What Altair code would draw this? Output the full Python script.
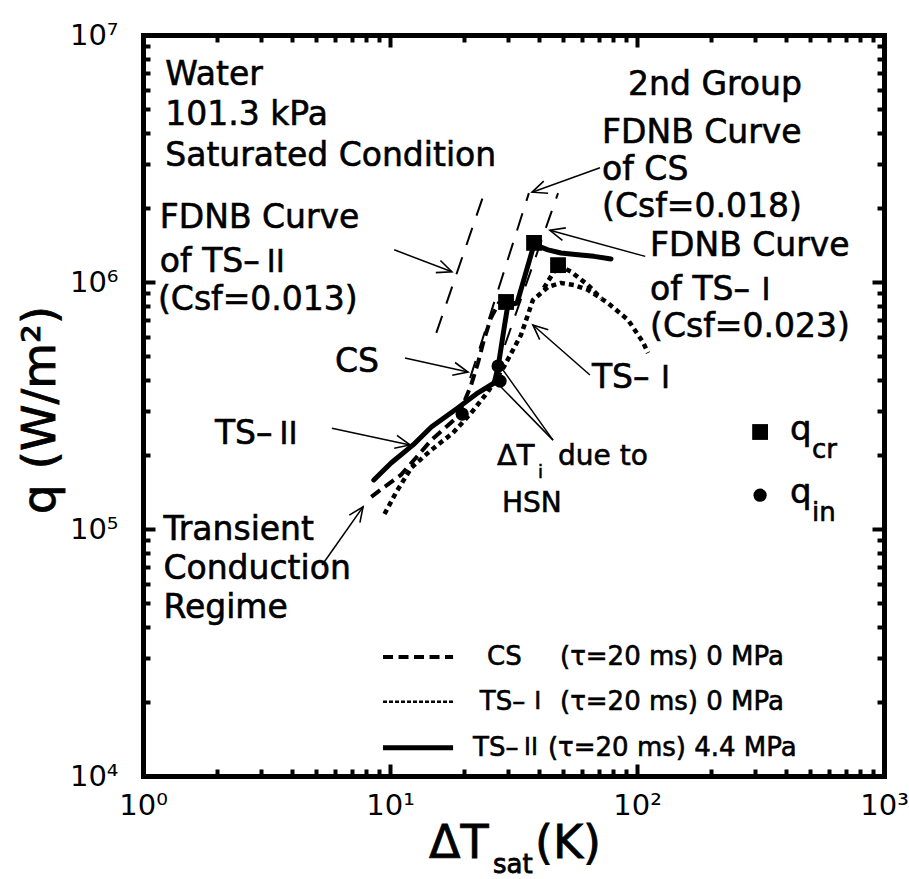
import json
import math
import altair as alt
import pandas as pd

FONT = "DejaVu Sans"
CJK = "Noto Sans CJK JP"

# ---------------- values ----------------
# CS (dashed, tau=20 ms, 0 MPa)
cs_dT = [8.4, 9.5, 11.1, 14.7, 18.5, 19.9, 21.3, 22.7, 24.0, 25.6, 27.6, 29.5]
cs_q = [1.35e5, 1.48e5, 1.66e5, 2.29e5, 2.81e5, 3.24e5, 3.83e5, 4.70e5, 5.82e5, 7.15e5, 8.22e5, 8.3e5]

# TS-I (dotted, tau=20 ms, 0 MPa)
ts1_dT = [9.5, 10.6, 12.2, 14.7, 18.0, 21.3, 24.9, 28.9, 33.9, 37.9, 43.6, 49.2, 55.6, 63.3, 76.3, 92.0, 105.7, 110.8]
ts1_q = [1.15e5, 1.41e5, 1.77e5, 2.09e5, 2.45e5, 2.95e5, 3.59e5, 4.53e5, 6.10e5, 8.45e5, 9.54e5, 9.91e5,
         9.72e5, 9.29e5, 8.22e5, 7.02e5, 5.71e5, 5.16e5]
ts1b_dT = [42.0, 47.9, 54.1, 63.3, 71.5]
ts1b_q = [9.46e5, 1.17e6, 1.10e6, 9.72e5, 8.61e5]

# TS-II (solid, tau=20 ms, 4.4 MPa)
ts2_dT = [8.6, 10.1, 12.4, 14.7, 18.8, 22.7, 26.4, 27.4, 28.9, 30.0, 32.7, 38.3, 43.6, 49.2, 57.7, 67.0, 78.5]
ts2_q = [1.58e5, 1.85e5, 2.19e5, 2.59e5, 3.09e5, 3.56e5, 3.90e5, 4.53e5, 6.40e5, 8.07e5, 8.22e5, 1.42e6,
         1.35e6, 1.31e6, 1.29e6, 1.27e6, 1.24e6]

# critical heat flux (squares) and incipient boiling (circles)
qcr_dT = [29.5, 38.3, 47.9]
qcr_q = [8.3e5, 1.44e6, 1.17e6]
qin_dT = [27.4, 27.9, 19.6]
qin_q = [4.57e5, 3.97e5, 2.92e5]

# FDNB curves (thin long dashes)
fdnb_ts2_dT = [15.4, 24.0]
fdnb_ts2_q = [6.22e5, 2.27e6]
fdnb_cs_dT = [21.1, 36.5]
fdnb_cs_q = [4.08e5, 2.29e6]
fdnb_ts1_dT = [29.2, 47.9]
fdnb_ts1_q = [5.56e5, 2.29e6]

# axis tick labels
x_tick_labels = ["10⁰", "10¹", "10²", "10³"]
y_tick_labels = ["10⁴", "10⁵", "10⁶", "10⁷"]
x_major = [1, 10, 100, 1000]
y_major = [1e4, 1e5, 1e6, 1e7]
x_minor = [m * 10 ** e for e in range(0, 3) for m in range(2, 10)]
y_minor = [m * 10 ** e for e in range(4, 7) for m in range(2, 10)]

# annotations: text, x, y, font size, baseline
ann_text = ["Water", "101.3 kPa", "Saturated Condition", "2nd Group",
            "FDNB Curve", "of CS", "(Csf=0.018)",
            "FDNB Curve", "of TS–", "(Csf=0.013)",
            "FDNB Curve", "of TS–", "(Csf=0.023)",
            "CS", "TS–", "TS–",
            "ΔT", "i", "due to", "HSN",
            "Transient", "Conduction", "Regime",
            "q", "cr", "q", "in",
            "CS", "(τ=20 ms) 0 MPa", "TS–", "(τ=20 ms) 0 MPa", "TS–", "(τ=20 ms) 4.4 MPa"]
ann_x = [1.23, 1.23, 1.23, 92.0,
         72.2, 72.2, 72.2,
         1.17, 1.17, 1.15,
         113, 113, 113,
         5.99, 1.955, 65.7,
         27.1, 39.7, 47.9, 28.4,
         1.21, 1.21, 1.21,
         416, 511, 416, 511,
         24.7, 48.8, 23.1, 48.8, 21.7, 43.6]
ann_y = [6.28e6, 4.32e6, 2.95e6, 5.71e6,
         3.65e6, 2.59e6, 1.84e6,
         1.65e6, 1.10e6, 7.71e5,
         1.27e6, 8.46e5, 5.99e5,
         4.32e5, 2.21e5, 3.72e5,
         1.82e5, 1.61e5, 1.82e5, 1.17e5,
         9.02e4, 6.28e4, 4.36e4,
         2.29e5, 1.94e5, 1.27e5, 1.08e5,
         3.03e4, 3.03e4, 2.00e4, 2.00e4, 1.30e4, 1.30e4]
ann_size = [33, 33, 33, 33,
            33, 33, 33,
            33, 33, 33,
            33, 33, 33,
            33, 33, 33,
            29, 18, 28, 28,
            33, 33, 33,
            34, 26, 34, 26,
            26, 26, 26, 26, 26, 26]
ann_base = ["alphabetic"] * 27 + ["middle"] * 6

# Roman numerals of the specimen names: (numeral, index of the "TS–" prefix it follows)
roman_text = ["Ⅱ", "Ⅰ", "Ⅱ", "Ⅰ", "Ⅰ", "Ⅱ"]
roman_after = [8, 11, 14, 15, 29, 31]

# arrows / leader lines: tail -> tip, head flag
arr_x0 = [10.4, 70.8, 108, 11.5, 5.82, 64.5, 45.7, 45.7, 5.31]
arr_y0 = [1.35e6, 2.90e6, 1.27e6, 4.92e5, 2.56e5, 4.20e5, 2.29e5, 2.29e5, 7.15e4]
arr_x1 = [17.8, 37.6, 44.4, 20.7, 12.05, 37.9, 28.7, 27.9, 7.78]
arr_y1 = [1.10e6, 2.31e6, 1.62e6, 4.32e5, 2.19e5, 6.70e5, 4.40e5, 3.79e5, 1.23e5]
arr_head = [True, True, True, True, True, True, False, False, True]

# legend keys (line samples and symbols)
leg_x0, leg_x1 = 9.37, 18.0
leg_y = [3.03e4, 2.00e4, 1.30e4]
sym_x = [315, 315]
sym_y = [2.47e5, 1.37e5]

# ---------------- chart ----------------
PX_PER_DECADE = 741 / 3
# DejaVu Sans advance widths (em) used to place the numeral right after its prefix
ADV = {"o": 0.612, "f": 0.352, " ": 0.318, "T": 0.611, "S": 0.635, "–": 0.5}
roman_x, roman_y, roman_size = [], [], []
for k in roman_after:
    w = sum(ADV[c] for c in ann_text[k]) * ann_size[k] + 0.5
    roman_x.append(ann_x[k] * 10 ** (w / PX_PER_DECADE))
    roman_y.append(ann_y[k])
    roman_size.append(ann_size[k] - 2)

XS = alt.Scale(type="log", domain=[1, 1000], nice=False)
YS = alt.Scale(type="log", domain=[1e4, 1e7], nice=False)


def X(axis=None):
    return alt.X("x:Q", scale=XS, axis=axis)


def Y(axis=None):
    return alt.Y("y:Q", scale=YS, axis=axis)


def axis(orient, values, size, labels=False):
    kw = dict(orient=orient, values=values, tickSize=size, offset=-size, tickWidth=4,
              tickColor="black", domain=False, grid=False, labels=labels, title=None)
    if labels:
        if orient in ("bottom", "top"):
            expr = json.dumps(x_tick_labels, ensure_ascii=False) + "[round(log(datum.value)/LN10)]"
            kw.update(labelPadding=15, labelFlush=False)
        else:
            expr = json.dumps(y_tick_labels, ensure_ascii=False) + "[round(log(datum.value)/LN10)-4]"
            kw.update(labelPadding=25)
        kw.update(labelExpr=expr, labelFont=FONT, labelFontSize=29, labelColor="black",
                  labelOverlap=False)
    return alt.Axis(**kw)


def frame_axis(orient, values):
    return alt.Axis(orient=orient, values=values, ticks=False, labels=False, grid=False,
                    domain=True, domainWidth=5, domainColor="black", domainCap="square",
                    title=None)


anchor = pd.DataFrame({"x": [10], "y": [1e5]})


def axis_layer(xa, ya):
    return alt.Chart(anchor).mark_point(opacity=0).encode(x=X(xa), y=Y(ya))


layers = [
    axis_layer(frame_axis("bottom", x_major), frame_axis("left", y_major)),
    axis_layer(frame_axis("top", x_major), frame_axis("right", y_major)),
    axis_layer(axis("bottom", x_major, 12, True), axis("left", y_major, 12, True)),
    axis_layer(axis("bottom", x_minor, 7), axis("left", y_minor, 7)),
    axis_layer(axis("top", x_major, 12), axis("right", y_major, 12)),
    axis_layer(axis("top", x_minor, 7), axis("right", y_minor, 7)),
]


def line_layer(xs, ys, width, dash=None, cap="butt"):
    df = pd.DataFrame({"x": xs, "y": ys, "i": list(range(len(xs)))})
    kw = dict(color="black", strokeWidth=width, strokeCap=cap, strokeJoin="round")
    if dash:
        kw["strokeDash"] = dash
    return alt.Chart(df).mark_line(**kw).encode(x=X(), y=Y(), order="i:Q")


FDNB_DASH = [18, 13]
layers += [
    line_layer(fdnb_ts2_dT, fdnb_ts2_q, 2, FDNB_DASH),
    line_layer(fdnb_cs_dT, fdnb_cs_q, 2, FDNB_DASH),
    line_layer(fdnb_ts1_dT, fdnb_ts1_q, 2, FDNB_DASH),
    line_layer(cs_dT, cs_q, 4, [11, 6]),
    line_layer(ts1_dT, ts1_q, 4.5, [5, 4]),
    line_layer(ts1b_dT, ts1b_q, 4.5, [5, 4]),
    line_layer(ts2_dT, ts2_q, 5, None, "round"),
]

# legend line samples
leg_styles = [(4, [10, 5.5]), (2.5, [4, 2]), (5, None)]
for yy, (w, d) in zip(leg_y, leg_styles):
    layers.append(line_layer([leg_x0, leg_x1], [yy, yy], w, d))

# markers
layers.append(alt.Chart(pd.DataFrame({"x": qcr_dT + [sym_x[0]], "y": qcr_q + [sym_y[0]]}))
              .mark_point(shape="square", filled=True, color="black", size=250, opacity=1)
              .encode(x=X(), y=Y()))
layers.append(alt.Chart(pd.DataFrame({"x": qin_dT + [sym_x[1]], "y": qin_q + [sym_y[1]]}))
              .mark_point(shape="circle", filled=True, color="black", size=175, opacity=1)
              .encode(x=X(), y=Y()))

# arrows
arr = pd.DataFrame({"x": arr_x0, "y": arr_y0, "x2": arr_x1, "y2": arr_y1})
layers.append(alt.Chart(arr).mark_rule(color="black", strokeWidth=1.5)
              .encode(x=X(), y=Y(), x2="x2:Q", y2="y2:Q"))
ang = []
for a, b, c, d, h in zip(arr_x0, arr_y0, arr_x1, arr_y1, arr_head):
    if h:
        dx = math.log10(c) - math.log10(a)
        dy = -(math.log10(d) - math.log10(b))
        ang.append((c, d, math.degrees(math.atan2(dy, dx)) % 360))
heads = pd.DataFrame({"x": [t[0] for t in ang], "y": [t[1] for t in ang], "ang": [t[2] for t in ang]})
layers.append(alt.Chart(heads).mark_point(shape="M-1.7,-0.75L0,0L-1.7,0.75", filled=False,
                                          color="black", strokeWidth=1.6, size=300, opacity=1)
              .encode(x=X(), y=Y(), angle=alt.Angle("ang:Q", scale=None)))

# annotation texts
ann = pd.DataFrame({"t": ann_text, "x": ann_x, "y": ann_y, "fs": ann_size, "bl": ann_base})
rom_base = [ann_base[k] for k in roman_after]
rom = pd.DataFrame({"t": roman_text, "x": roman_x, "y": roman_y, "fs": roman_size, "bl": rom_base})
for df, font in [(ann, FONT), (rom, CJK)]:
    for bl in ["alphabetic", "middle"]:
        sub = df[df.bl == bl]
        if len(sub) == 0:
            continue
        layers.append(alt.Chart(sub).mark_text(font=font, align="left", baseline=bl, color="black",
                                               stroke="black", strokeWidth=0.6)
                      .encode(x=X(), y=Y(), text="t:N", size=alt.Size("fs:Q", scale=None)))

# axis titles (with sub/superscripts)
one = pd.DataFrame({"a": [0]})
tkw = dict(font=FONT, align="left", baseline="alphabetic", color="black", stroke="black", strokeWidth=0.8)
layers += [
    alt.Chart(one).mark_text(text="ΔT", fontSize=46, **tkw).encode(x=alt.value(286), y=alt.value(823)),
    alt.Chart(one).mark_text(text="sat", fontSize=26, **tkw).encode(x=alt.value(350), y=alt.value(838)),
    alt.Chart(one).mark_text(text="(K)", fontSize=46, **tkw).encode(x=alt.value(392), y=alt.value(823)),
    alt.Chart(one).mark_text(text="q (W/m²)", font=FONT, fontSize=47, align="center",
                             baseline="alphabetic", angle=270, color="black", stroke="black",
                             strokeWidth=0.8).encode(x=alt.value(-88), y=alt.value(375)),
]

chart = (
    alt.layer(*layers)
    .resolve_axis(x="independent", y="independent")
    .properties(width=741, height=741,
                padding={"left": 143, "top": 35, "right": 25, "bottom": 103},
                autosize=alt.AutoSizeParams(type="none"))
    .configure_view(strokeWidth=0)
    .configure(background="white")
)

chart.save("out.html", embed_options={"renderer": "svg", "actions": False})
